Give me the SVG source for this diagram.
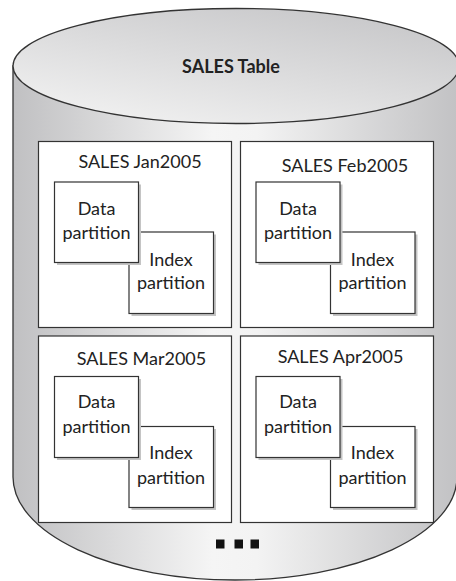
<svg xmlns="http://www.w3.org/2000/svg" width="456" height="581" viewBox="0 0 456 581">
<defs>
<linearGradient id="body" x1="0" y1="0" x2="1" y2="0">
<stop offset="0" stop-color="#c0c0c2"/>
<stop offset="0.45" stop-color="#f5f5f5"/>
<stop offset="0.55" stop-color="#f3f3f3"/>
<stop offset="1" stop-color="#c2c2c4"/>
</linearGradient>
<linearGradient id="top" x1="0.15" y1="1" x2="0.85" y2="0">
<stop offset="0" stop-color="#f2f2f2"/>
<stop offset="1" stop-color="#c6c6c8"/>
</linearGradient>
<style>
.outline{stroke:#333;stroke-width:1.3;}
.box{fill:#fff;stroke:#333;stroke-width:1.2;}
.shadow{fill:#c4c4c4;}
.t{font-family:"Lato","Open Sans",sans-serif;font-size:18px;fill:#222;text-anchor:middle;}
.title{font-family:"Lato","Open Sans",sans-serif;font-size:18px;font-weight:bold;fill:#222;text-anchor:middle;}
</style>
</defs>
<g id="cylinder">
<path class="outline" fill="url(#body)" d="M13,66 L13,477 A222,103 0 0 0 457,477 L457,66 Z"/>
<ellipse class="outline" fill="url(#top)" cx="236" cy="66" rx="223" ry="57.5"/>
<text class="title" x="231" y="73">SALES Table</text>
</g>
<g id="jan">
<rect class="box" x="38.5" y="141.5" width="193" height="186"/>
<text class="t" x="140" y="168">SALES Jan2005</text>
<g id="jan-index">
<rect class="shadow" x="131.5" y="234.5" width="84.5" height="81.5"/>
<rect class="box" x="129" y="232" width="84.5" height="81.5"/>
<text class="t" x="171" y="266">Index</text>
<text class="t" x="171" y="289">partition</text>
</g>
<g id="jan-data">
<rect class="shadow" x="57" y="184.5" width="84" height="80.5"/>
<rect class="box" x="54.5" y="182" width="84" height="80.5"/>
<text class="t" x="96.5" y="215">Data</text>
<text class="t" x="96.5" y="239">partition</text>
</g>
</g>
<g id="feb">
<rect class="box" x="240.5" y="141.5" width="193" height="186"/>
<text class="t" x="345" y="172">SALES Feb2005</text>
<g id="feb-index">
<rect class="shadow" x="333" y="234.5" width="84.5" height="81.5"/>
<rect class="box" x="330.5" y="232" width="84.5" height="81.5"/>
<text class="t" x="372.5" y="266">Index</text>
<text class="t" x="372.5" y="289">partition</text>
</g>
<g id="feb-data">
<rect class="shadow" x="258.5" y="184.5" width="84" height="80.5"/>
<rect class="box" x="256" y="182" width="84" height="80.5"/>
<text class="t" x="298" y="215">Data</text>
<text class="t" x="298" y="239">partition</text>
</g>
</g>
<g id="mar">
<rect class="box" x="38.5" y="336" width="193" height="186.5"/>
<text class="t" x="141.5" y="365">SALES Mar2005</text>
<g id="mar-index">
<rect class="shadow" x="131.5" y="429" width="84.5" height="81"/>
<rect class="box" x="129" y="426.5" width="84.5" height="81"/>
<text class="t" x="171" y="459">Index</text>
<text class="t" x="171" y="484">partition</text>
</g>
<g id="mar-data">
<rect class="shadow" x="57" y="379" width="84" height="81"/>
<rect class="box" x="54.5" y="376.5" width="84" height="81"/>
<text class="t" x="96.5" y="408">Data</text>
<text class="t" x="96.5" y="433">partition</text>
</g>
</g>
<g id="apr">
<rect class="box" x="240.5" y="336" width="193" height="186.5"/>
<text class="t" x="340.5" y="362.5">SALES Apr2005</text>
<g id="apr-index">
<rect class="shadow" x="333" y="429" width="84.5" height="81"/>
<rect class="box" x="330.5" y="426.5" width="84.5" height="81"/>
<text class="t" x="372.5" y="459">Index</text>
<text class="t" x="372.5" y="484">partition</text>
</g>
<g id="apr-data">
<rect class="shadow" x="258.5" y="379" width="84" height="81"/>
<rect class="box" x="256" y="376.5" width="84" height="81"/>
<text class="t" x="298" y="408">Data</text>
<text class="t" x="298" y="433">partition</text>
</g>
</g>
<g id="ellipsis" fill="#111">
<rect x="216" y="539.5" width="8.5" height="9"/>
<rect x="234.5" y="539.5" width="8.5" height="9"/>
<rect x="250.5" y="539.5" width="8.5" height="9"/>
</g>
<g id="connectors"/>
</svg>
